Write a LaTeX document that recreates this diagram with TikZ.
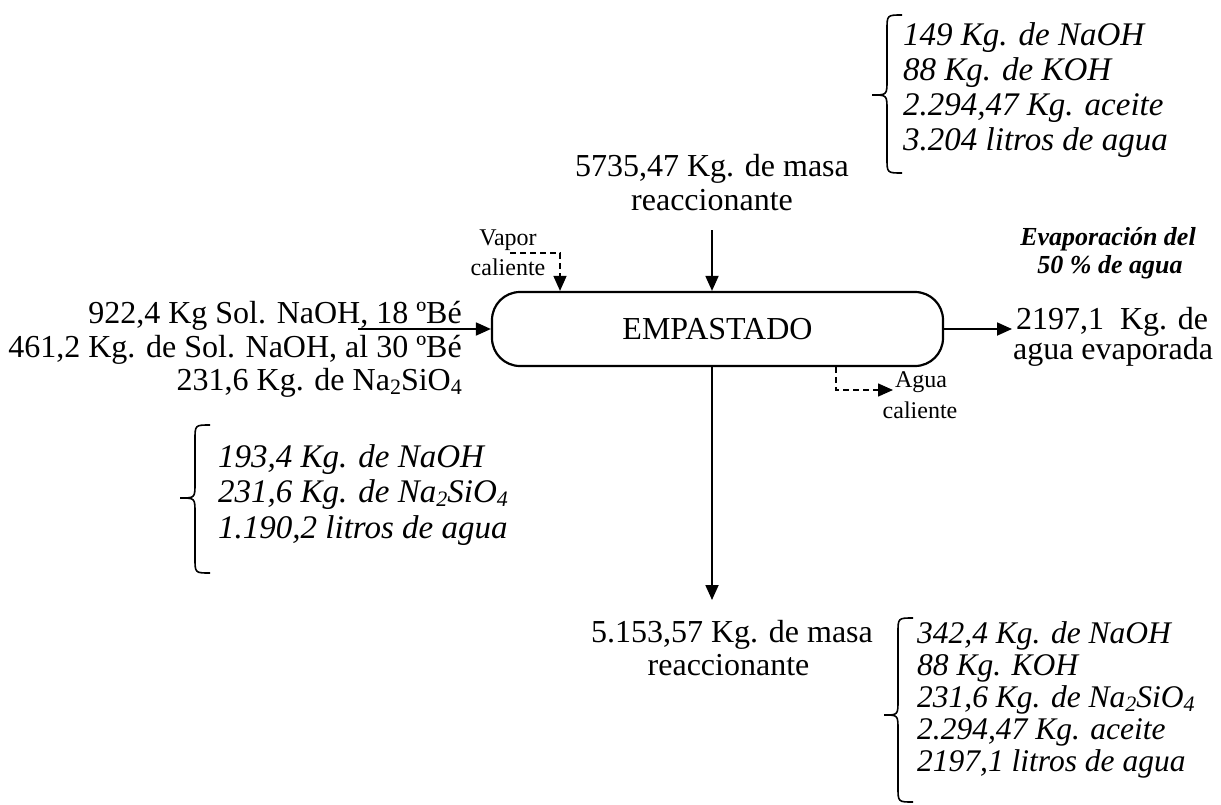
\documentclass[tikz,border=0pt]{standalone}
\usepackage{fontspec}
\setmainfont{Liberation Serif}
\usetikzlibrary{arrows.meta}
\newcommand\lowsub[1]{\raisebox{-0.14em}{\fontsize{22}{22}\selectfont #1}}
\tikzset{
  big/.style={font=\fontsize{32}{35}\selectfont, inner sep=0pt},
  itl/.style={font=\fontsize{33}{36}\selectfont\itshape, inner sep=0pt, anchor=base west},
  itls/.style={font=\fontsize{31.5}{34}\selectfont\itshape, inner sep=0pt, anchor=base west},
  small/.style={font=\fontsize{24}{26}\selectfont, inner sep=0pt, anchor=base},
  bit/.style={font=\fontsize{26}{29}\selectfont\bfseries\itshape, inner sep=0pt, anchor=base},
  arr/.style={line width=1.8pt, -{Triangle[length=15pt,width=13pt]}},
  darr/.style={line width=1.5pt, dash pattern=on 6pt off 4pt, -{Triangle[length=15pt,width=13pt]}},
  bracepath/.style={line width=1.6pt},
  proc/.style={draw, line width=2.2pt, rounded corners=28pt, minimum width=451pt, minimum height=74pt, inner sep=0pt, font=\fontsize{32}{35}\selectfont}
}
\begin{document}
\begin{tikzpicture}[x=1pt,y=-1pt]
\useasboundingbox[fill=white] (0,0) rectangle (1221,804);

% process box
\node[proc] (emp) at (717.5,329) {EMPASTADO};

% top input
\node[big, anchor=base] (top1) at (712,176) {5735,47 Kg. de masa};
\node[big, anchor=base] (top2) at (712,210) {reaccionante};
\coordinate (topstart) at (712,230);
\draw[arr] (topstart) -- (topstart |- emp.north);

% top-right composition
\draw[bracepath] (902,15) .. controls (887,15) .. (887,30) -- (887,80)
  .. controls (887,95) .. (872,95) .. controls (887,95) .. (887,110)
  -- (887,158) .. controls (887,173) .. (902,173);
\node[itl] (tr1) at (903,45) {149 Kg. de NaOH};
\node[itl] (tr2) at (903,80) {88 Kg. de KOH};
\node[itl] (tr3) at (903,115) {2.294,47 Kg. aceite};
\node[itl] (tr4) at (903,150) {3.204 litros de agua};

% vapor caliente
\node[small] (vap1) at (508,245) {Vapor};
\node[small] (vap2) at (508,275) {caliente};
\coordinate (vapstart) at (510,253);
\coordinate (vapturn) at (560,253);
\draw[darr] (vapstart) -- (vapturn) -- (vapturn |- emp.north);

% left input
\node[big, anchor=base east] (l1) at (462,323) {922,4 Kg Sol. NaOH, 18 ºBé};
\node[big, anchor=base east] (l2) at (462,357) {461,2 Kg. de Sol. NaOH, al 30 ºBé};
\node[big, anchor=base east] (l3) at (462,390) {231,6 Kg. de Na\lowsub{2}SiO\lowsub{4}};
\coordinate (lstart) at (358,329);
\draw[arr] (lstart) -- (lstart -| emp.west);

% left composition
\draw[bracepath] (210,425) .. controls (195,425) .. (195,440) -- (195,483)
  .. controls (195,498) .. (180,498) .. controls (195,498) .. (195,513)
  -- (195,558) .. controls (195,573) .. (210,573);
\node[itl] (lc1) at (218,467) {193,4 Kg. de NaOH};
\node[itl] (lc2) at (218,502) {231,6 Kg. de Na\lowsub{2}SiO\lowsub{4}};
\node[itl] (lc3) at (218,538) {1.190,2 litros de agua};

% right output
\node[bit] (ev1) at (1108,245) {Evaporación del};
\node[bit] (ev2) at (1110,273) {50 \% de agua};
\node[big, anchor=base] (r1) at (1112,329) {2197,1\ \ Kg. de};
\node[big, anchor=base] (r2) at (1113,359) {agua evaporada};
\coordinate (rend) at (1012,329);
\draw[arr] (emp.east) -- (rend);

% agua caliente
\coordinate (aguastart) at (836,329);
\coordinate (aguaturn) at (836,390);
\coordinate (aguaend) at (893,390);
\draw[darr] (aguastart |- emp.south) -- (aguaturn) -- (aguaend);
\node[small] (ag1) at (921,387) {Agua};
\node[small] (ag2) at (920,418) {caliente};

% bottom output
\coordinate (bend) at (712,600);
\draw[arr] (bend |- emp.south) -- (bend);
\node[big, anchor=base] (b1) at (732,642) {5.153,57 Kg. de masa};
\node[big, anchor=base] (b2) at (728.5,675) {reaccionante};

% bottom-right composition
\draw[bracepath] (913,618) .. controls (898,618) .. (898,633) -- (898,700)
  .. controls (898,715) .. (884,715) .. controls (898,715) .. (898,730)
  -- (898,787) .. controls (898,802) .. (913,802);
\node[itls] (br1) at (917,643) {342,4 Kg. de NaOH};
\node[itls] (br2) at (917,675) {88 Kg. KOH};
\node[itls] (br3) at (917,707) {231,6 Kg. de Na\lowsub{2}SiO\lowsub{4}};
\node[itls] (br4) at (917,739) {2.294,47 Kg. aceite};
\node[itls] (br5) at (917,771) {2197,1 litros de agua};
\end{tikzpicture}
\end{document}
